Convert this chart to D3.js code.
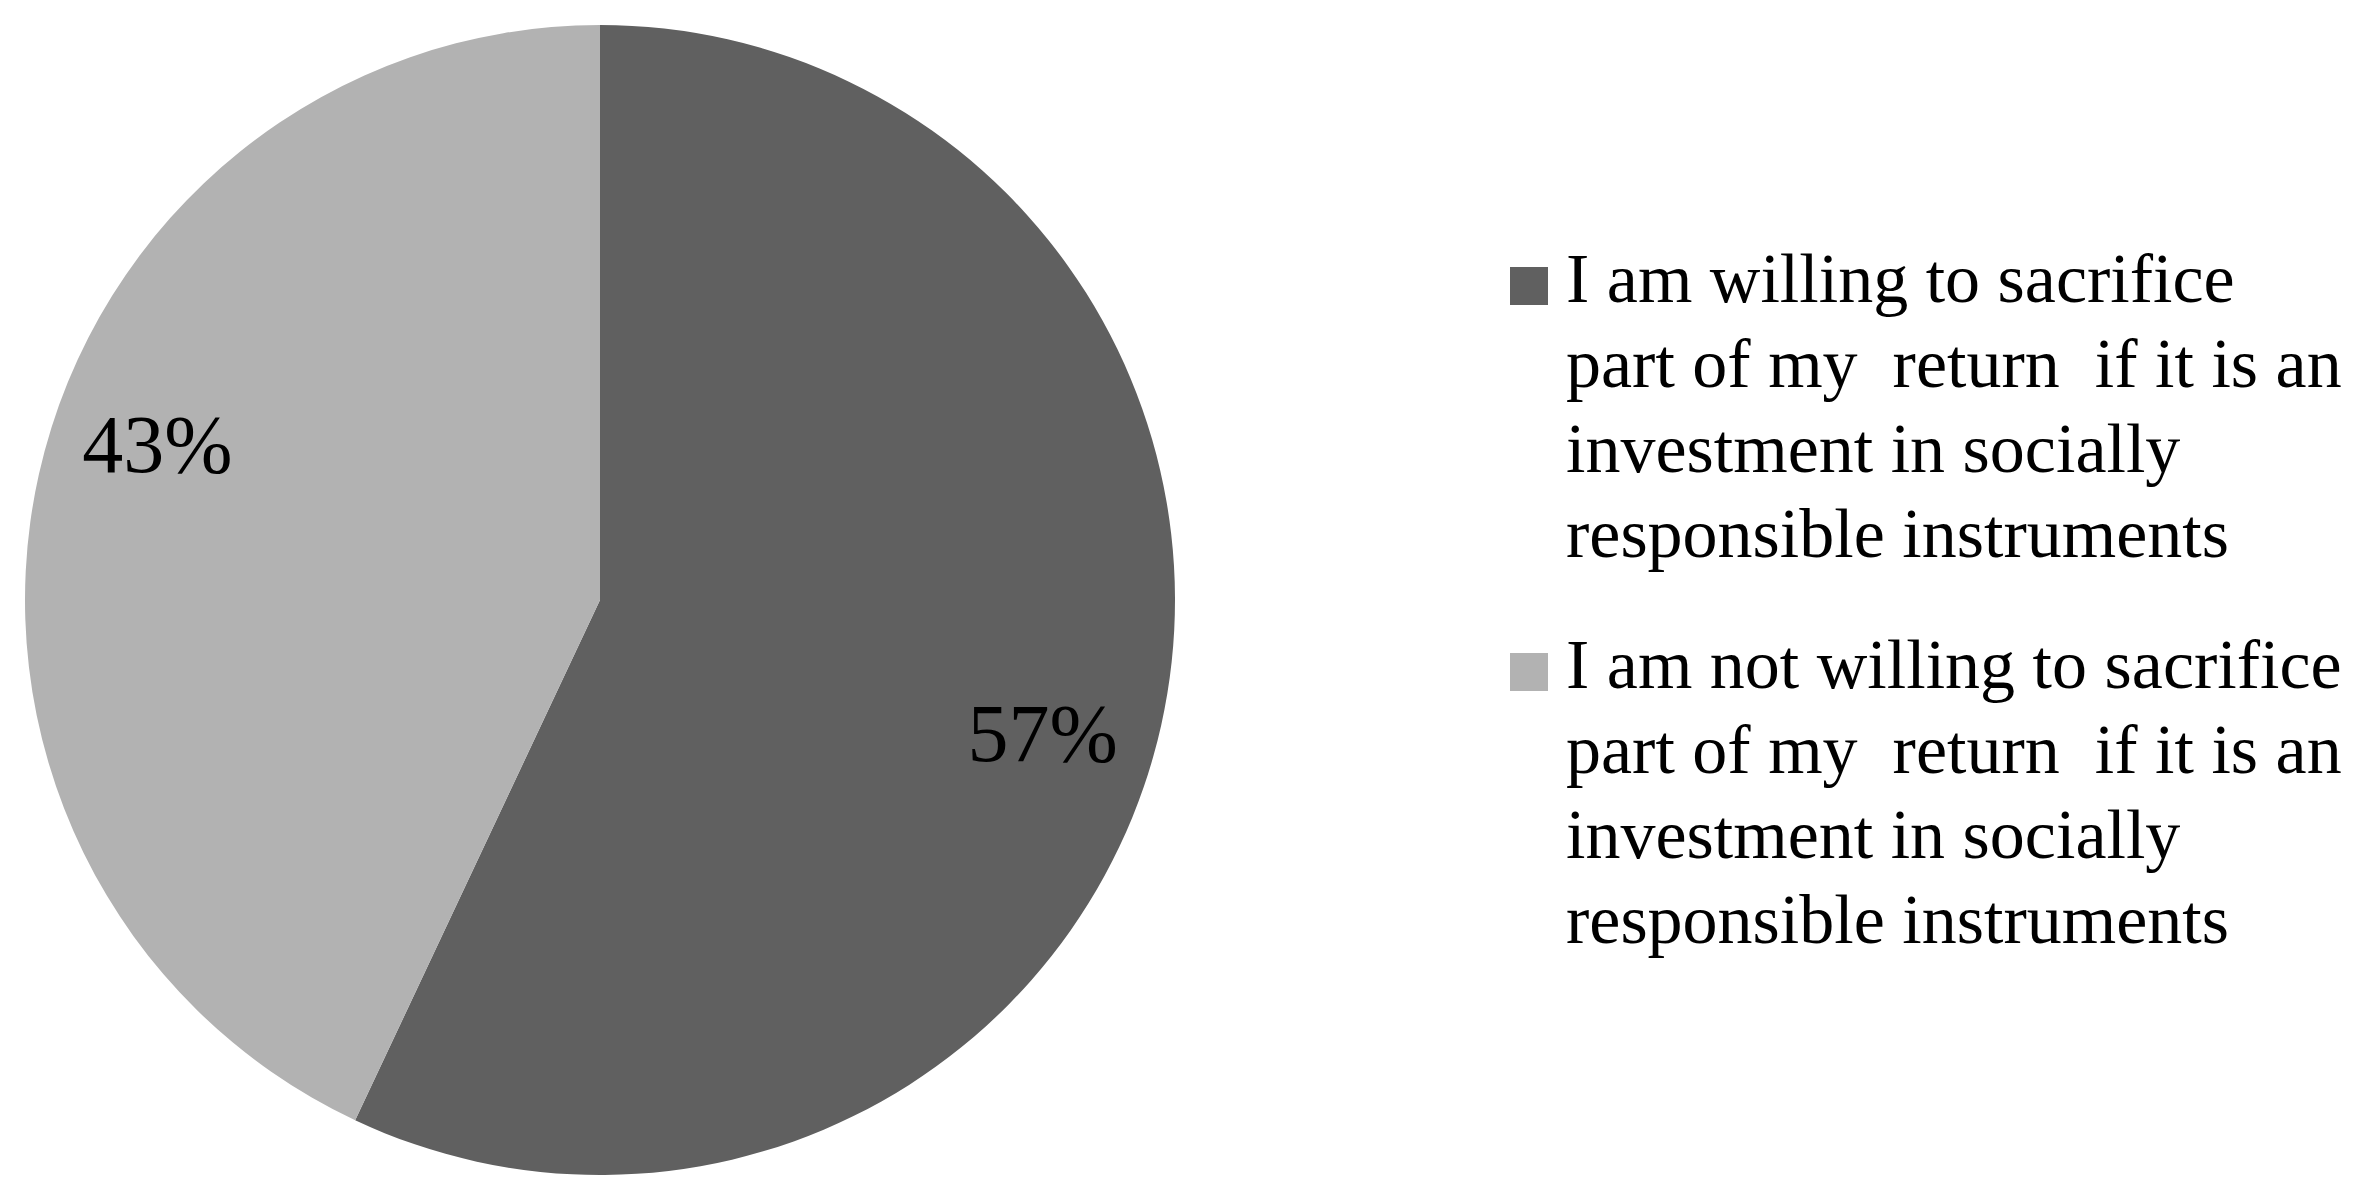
<!DOCTYPE html>
<html lang="en">
<head>
<meta charset="utf-8">
<title>Willingness to sacrifice return</title>
<style>
  html, body { margin: 0; padding: 0; background: #fff; }
  svg { display: block; }
  .lbl { font-family: "Liberation Serif", "DejaVu Serif", serif; fill: #000; }
</style>
</head>
<body>
<svg width="2365" height="1203"></svg>
<script src="https://cdn.jsdelivr.net/npm/d3@7"></script>
<script>

// data
var categories = [
  "I am willing to sacrifice part of my return if it is an investment in socially responsible instruments",
  "I am not willing to sacrifice part of my return if it is an investment in socially responsible instruments"
];
var legendLines = [
  ["I am willing to sacrifice", "part of my  return  if it is an", "investment in socially", "responsible instruments"],
  ["I am not willing to sacrifice", "part of my  return  if it is an", "investment in socially", "responsible instruments"]
];
var values = [57, 43];
var colors = ["#606060", "#b2b2b2"];

var svg = d3.select("svg");
var cx = 600, cy = 600, radius = 575;

var pie = d3.pie().sort(null).value(function(d) { return d; });
var arcs = pie(values);

var arc = d3.arc().innerRadius(0).outerRadius(radius);
var labelArc = d3.arc().innerRadius(radius * 0.81).outerRadius(radius * 0.81);
var shift = 5.5 * Math.PI / 180; // labels sit a little clockwise of the slice middle

var g = svg.append("g").attr("transform", "translate(" + cx + "," + cy + ")");

g.selectAll("path.slice")
  .data(arcs)
  .enter().append("path")
    .attr("class", "slice")
    .attr("d", arc)
    .attr("fill", function(d, i) { return colors[i]; });

g.selectAll("text.pct")
  .data(arcs)
  .enter().append("text")
    .attr("class", "lbl pct")
    .attr("transform", function(d) {
      var p = labelArc.centroid({startAngle: d.startAngle + shift, endAngle: d.endAngle + shift});
      return "translate(" + p + ")";
    })
    .attr("text-anchor", "middle")
    .attr("dy", "0.2em")
    .style("font-size", "82px")
    .text(function(d) { return d.data + "%"; });

// legend
var legX = 1510, legY0 = 302, lineH = 85, blockGap = 46, sq = 38;

var leg = svg.selectAll("g.leg")
  .data(categories)
  .enter().append("g")
    .attr("class", "leg")
    .attr("transform", function(d, i) {
      return "translate(" + legX + "," + (legY0 + i * (4 * lineH + blockGap)) + ")";
    });

leg.append("rect")
  .attr("x", 0)
  .attr("y", -sq / 2 - 16)
  .attr("width", sq)
  .attr("height", sq)
  .attr("fill", function(d, i) { return colors[i]; });

leg.append("text")
  .attr("class", "lbl")
  .style("font-size", "70px")
  .attr("xml:space", "preserve")
  .selectAll("tspan")
  .data(function(d, i) { return legendLines[i]; })
  .enter().append("tspan")
    .attr("x", 56)
    .attr("y", function(d, j) { return j * lineH; })
    .text(function(d) { return d; });

</script>
</body>
</html>
